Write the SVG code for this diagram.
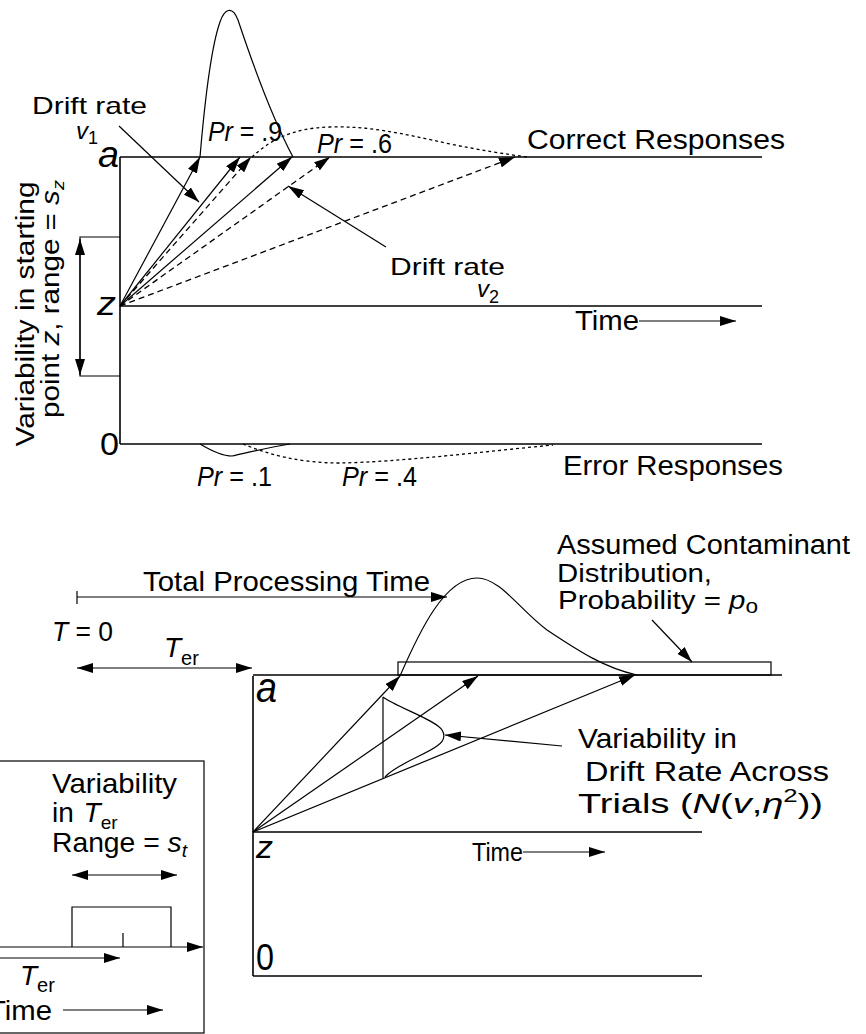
<svg xmlns="http://www.w3.org/2000/svg" width="866" height="1034" viewBox="0 0 866 1034" font-size="27">
<style>
text{font-family:"Liberation Sans",Arial,sans-serif;fill:#000}
.i{font-style:italic}
.ln{stroke:#000;stroke-width:1.6;fill:none}
.th{stroke:#000;stroke-width:1.2;fill:none}
.ds{stroke:#000;stroke-width:1.3;fill:none;stroke-dasharray:6 4}
.dt{stroke:#000;stroke-width:1.3;fill:none;stroke-dasharray:3 3}
.ar{marker-end:url(#ah)}
.dbl{marker-start:url(#ah);marker-end:url(#ah)}
</style>
<defs>
<marker id="ah" viewBox="0 0 16 10" refX="16" refY="5" markerWidth="16" markerHeight="10" markerUnits="userSpaceOnUse" orient="auto-start-reverse"><path d="M0,0 L16,5 L0,10 z" fill="#000"/></marker>
</defs>
<rect width="866" height="1034" fill="#fff"/>

<g id="top-frame">
<path class="ln" d="M120,157 V444"/>
<path class="ln" d="M120,157 H762"/>
<path class="ln" d="M120,306 H762"/>
<path class="ln" d="M120,444 H762"/>
<text x="98" y="167" class="i" font-size="36" textLength="21" lengthAdjust="spacingAndGlyphs">a</text>
<text x="97" y="315" class="i" font-size="33" textLength="19" lengthAdjust="spacingAndGlyphs">z</text>
<text x="100" y="455" font-size="31" textLength="19" lengthAdjust="spacingAndGlyphs">0</text>
</g>

<g id="start-variability">
<path class="th" d="M120,237 H80 V376 H120"/>
<path class="th ar" d="M80,300 V239"/>
<path class="th ar" d="M80,300 V375"/>
<text transform="rotate(-90 34 314)" x="34" y="314" text-anchor="middle" font-size="25" textLength="265" lengthAdjust="spacingAndGlyphs">Variability in starting</text>
<text transform="rotate(-90 59 299)" x="59" y="299" text-anchor="middle" font-size="25" textLength="238" lengthAdjust="spacingAndGlyphs">point <tspan class="i">z</tspan>, range = <tspan class="i">s</tspan><tspan class="i" font-size="17" dy="5">z</tspan></text>
</g>

<g id="correct-distributions">
<path class="th" d="M200,157 C204,110 210,50 220,22 C224,10 232,4 238,20 C248,50 268,110 293,157"/>
<path class="dt" d="M252,157 C268,142 290,128 330,127 C370,126 400,133 450,144 C480,150 505,154 527,157"/>
<text x="208" y="141" textLength="74" lengthAdjust="spacingAndGlyphs"><tspan class="i">Pr</tspan> = .9</text>
<text x="317" y="153" textLength="75" lengthAdjust="spacingAndGlyphs"><tspan class="i">Pr</tspan> = .6</text>
<text x="527" y="149" textLength="258" lengthAdjust="spacingAndGlyphs">Correct  Responses</text>
</g>

<g id="error-distributions">
<path class="th" d="M200,444 C210,450 222,456 232,456 C250,452 270,447 290,444"/>
<path class="dt" d="M243,444 C270,455 300,463 340,463 C400,462 480,452 553,445"/>
<text x="197" y="486" textLength="75" lengthAdjust="spacingAndGlyphs"><tspan class="i">Pr</tspan> = .1</text>
<text x="342" y="486" textLength="75" lengthAdjust="spacingAndGlyphs"><tspan class="i">Pr</tspan> = .4</text>
<text x="563" y="475" textLength="220" lengthAdjust="spacingAndGlyphs">Error Responses</text>
</g>

<g id="drift-v1">
<text x="32" y="114" font-size="24" textLength="115" lengthAdjust="spacingAndGlyphs">Drift rate</text>
<text x="76" y="139" font-size="24"><tspan class="i">v</tspan><tspan font-size="18" dy="5">1</tspan></text>
</g>

<g id="drift-v2">
<text x="390" y="275" font-size="24" textLength="115" lengthAdjust="spacingAndGlyphs">Drift rate</text>
<text x="477" y="297" font-size="24"><tspan class="i">v</tspan><tspan font-size="18" dy="6">2</tspan></text>
</g>

<g id="time-top">
<text x="575" y="330" textLength="64" lengthAdjust="spacingAndGlyphs">Time</text>
</g>

<g id="top-connectors">
<path class="th ar" d="M120,306 L200,157"/>
<path class="th ar" d="M120,306 L240,157"/>
<path class="ds ar" d="M120,306 L251,157"/>
<path class="th ar" d="M120,306 L292,157"/>
<path class="ds ar" d="M120,306 L330,157"/>
<path class="ds ar" d="M120,306 L515,157"/>
<path class="th ar" d="M119,126 L199,202"/>
<path class="th ar" d="M386,247 L288,186"/>
<path class="th ar" d="M639,321 L736,321"/>
</g>

<g id="total-time">
<path class="th" d="M77,591 V604"/>
<path class="th ar" d="M77,597 L447,597"/>
<text x="143" y="591" font-size="28" textLength="287" lengthAdjust="spacingAndGlyphs">Total Processing Time</text>
<text x="52" y="641" font-size="28" textLength="61" lengthAdjust="spacingAndGlyphs"><tspan class="i">T</tspan> = 0</text>
<text x="164" y="657" font-size="28"><tspan class="i">T</tspan><tspan font-size="20" dy="8">er</tspan></text>
<path class="th dbl" d="M77,668 L252,668"/>
</g>

<g id="bottom-frame">
<path class="ln" d="M253,676 V976"/>
<path class="ln" d="M253,675 H782"/>
<path class="ln" d="M253,832 H702"/>
<path class="ln" d="M253,976 H702"/>
<text x="256" y="702" class="i" font-size="42" textLength="21" lengthAdjust="spacingAndGlyphs">a</text>
<text x="256" y="858" class="i" font-size="31" textLength="17" lengthAdjust="spacingAndGlyphs">z</text>
<text x="256" y="970" font-size="37" textLength="18" lengthAdjust="spacingAndGlyphs">0</text>
<text x="472" y="861" font-size="26" textLength="51" lengthAdjust="spacingAndGlyphs">Time</text>
<path class="th ar" d="M523,852 L605,852"/>
</g>

<g id="contaminant">
<rect x="398" y="662" width="373" height="13" class="th"/>
<text x="557" y="554" textLength="293" lengthAdjust="spacingAndGlyphs">Assumed Contaminant</text>
<text x="557" y="582" font-size="26" textLength="155" lengthAdjust="spacingAndGlyphs">Distribution,</text>
<text x="558" y="609" font-size="26" textLength="200" lengthAdjust="spacingAndGlyphs">Probability = <tspan class="i">p</tspan><tspan font-size="20" dy="4">o</tspan></text>
</g>

<g id="rt-distribution">
<path class="th" d="M400,676 C420,630 445,578 477,578 C500,578 520,610 547,630 C580,652 605,668 637,675"/>
</g>

<g id="drift-variability">
<path class="th" d="M383,697 V778"/>
<path class="th" d="M383,697 C395,706 425,716 438,726 C446,732 446,740 437,746 C425,755 395,765 385,777"/>
<text x="578" y="748" font-size="28" textLength="159" lengthAdjust="spacingAndGlyphs">Variability in</text>
<text x="585" y="781" font-size="28" textLength="244" lengthAdjust="spacingAndGlyphs">Drift Rate Across</text>
<text x="578" y="813" font-size="28" textLength="245" lengthAdjust="spacingAndGlyphs">Trials (<tspan class="i">N</tspan>(<tspan class="i">v</tspan>,<tspan class="i">η</tspan><tspan font-size="19" dy="-11">2</tspan><tspan dy="11">))</tspan></text>
</g>

<g id="ter-variability">
<rect x="-2" y="761" width="206" height="272" class="th"/>
<text x="52" y="793" font-size="28" textLength="125" lengthAdjust="spacingAndGlyphs">Variability</text>
<text x="52" y="822" font-size="28">in <tspan class="i" dx="2">T</tspan><tspan font-size="19" dy="7">er</tspan></text>
<text x="52" y="852" font-size="28" textLength="135" lengthAdjust="spacingAndGlyphs">Range = <tspan class="i">s</tspan><tspan class="i" font-size="19" dy="5">t</tspan></text>
<path class="th dbl" d="M72,875 L177,875"/>
<path class="th" d="M72,947 V907 H171 V947 M123,947 V933"/>
<text x="20" y="985" font-size="28"><tspan class="i">T</tspan><tspan font-size="20" dy="7">er</tspan></text>
<text x="-12" y="1020" font-size="27" textLength="64" lengthAdjust="spacingAndGlyphs">Time</text>
</g>

<g id="bottom-connectors">
<path class="th ar" d="M253,832 L400,676"/>
<path class="th ar" d="M253,832 L478,676"/>
<path class="th ar" d="M253,832 L635,675"/>
<path class="th ar" d="M562,746 L445,735"/>
<path class="th ar" d="M652,620 L692,662"/>
<path class="th ar" d="M0,947 L203,947"/>
<path class="th ar" d="M0,958 L120,958"/>
<path class="th ar" d="M63,1010 L163,1010"/>
</g>
</svg>
